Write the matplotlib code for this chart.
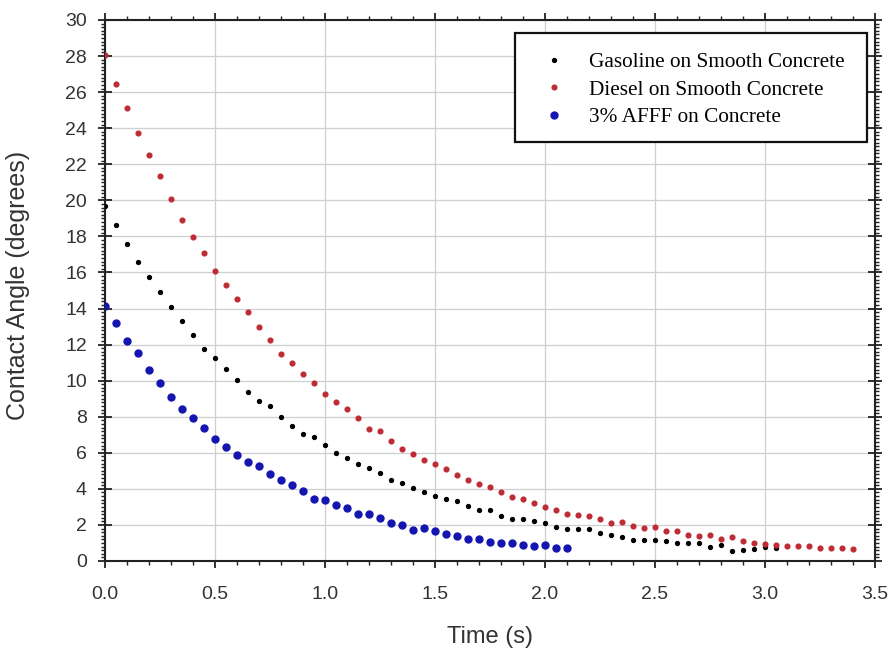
import matplotlib
matplotlib.use("Agg")
import matplotlib.pyplot as plt
from matplotlib.ticker import MultipleLocator
from matplotlib.patches import Rectangle

time_s = [0.00, 0.05, 0.10, 0.15, 0.20, 0.25, 0.30, 0.35, 0.40, 0.45,
          0.50, 0.55, 0.60, 0.65, 0.70, 0.75, 0.80, 0.85, 0.90, 0.95,
          1.00, 1.05, 1.10, 1.15, 1.20, 1.25, 1.30, 1.35, 1.40, 1.45,
          1.50, 1.55, 1.60, 1.65, 1.70, 1.75, 1.80, 1.85, 1.90, 1.95,
          2.00, 2.05, 2.10, 2.15, 2.20, 2.25, 2.30, 2.35, 2.40, 2.45,
          2.50, 2.55, 2.60, 2.65, 2.70, 2.75, 2.80, 2.85, 2.90, 2.95,
          3.00, 3.05, 3.10, 3.15, 3.20, 3.25, 3.30, 3.35, 3.40]

gasoline = [19.69, 18.62, 17.57, 16.57, 15.74, 14.89, 14.07, 13.33, 12.52, 11.78,
            11.23, 10.62, 10.01, 9.38, 8.88, 8.57, 8.00, 7.50, 7.02, 6.85,
            6.41, 5.99, 5.73, 5.36, 5.16, 4.87, 4.51, 4.32, 4.05, 3.83,
            3.59, 3.44, 3.35, 3.07, 2.81, 2.85, 2.52, 2.32, 2.35, 2.23,
            2.12, 1.86, 1.78, 1.78, 1.75, 1.58, 1.45, 1.34, 1.19, 1.19,
            1.15, 1.10, 0.98, 1.01, 1.01, 0.79, 0.88, 0.58, 0.60, 0.68,
            0.75, 0.71]

diesel = [28.06, 26.46, 25.14, 23.74, 22.50, 21.37, 20.08, 18.89, 17.99, 17.10,
          16.08, 15.31, 14.53, 13.83, 12.95, 12.24, 11.46, 10.96, 10.39, 9.89,
          9.24, 8.80, 8.43, 7.91, 7.34, 7.19, 6.65, 6.22, 5.93, 5.60,
          5.38, 5.09, 4.75, 4.49, 4.29, 4.12, 3.83, 3.55, 3.44, 3.23,
          3.00, 2.83, 2.61, 2.57, 2.51, 2.33, 2.09, 2.16, 1.92, 1.81,
          1.88, 1.64, 1.65, 1.44, 1.39, 1.44, 1.24, 1.31, 1.13, 1.00,
          0.96, 0.89, 0.83, 0.83, 0.85, 0.74, 0.72, 0.74, 0.65]

afff = [14.12, 13.19, 12.22, 11.52, 10.60, 9.86, 9.08, 8.43, 7.91, 7.38,
        6.77, 6.31, 5.90, 5.49, 5.29, 4.85, 4.48, 4.20, 3.87, 3.46,
        3.39, 3.10, 2.95, 2.63, 2.60, 2.36, 2.12, 2.01, 1.72, 1.85,
        1.68, 1.52, 1.37, 1.24, 1.22, 1.05, 1.02, 1.02, 0.89, 0.83,
        0.87, 0.74, 0.71]

labels = ["Gasoline on Smooth Concrete", "Diesel on Smooth Concrete", "3% AFFF on Concrete"]

plt.rcParams['font.family'] = ['Liberation Sans', 'DejaVu Sans']

fig = plt.figure(figsize=(8.93, 6.49), dpi=100)
ax = fig.add_axes([0.1176, 0.1356, 0.8623, 0.8336])

ax.plot(time_s[:len(gasoline)], gasoline, linestyle='none', marker='o',
        markersize=2.8, color='black', label=labels[0], zorder=3)
ax.plot(time_s[:len(diesel)], diesel, linestyle='none', marker='o',
        markersize=3.4, color='#bf2b35', label=labels[1], zorder=3)
ax.plot(time_s[:len(afff)], afff, linestyle='none', marker='o',
        markersize=5.0, color='#1414b0', label=labels[2], zorder=3)

ax.set_xlim(0, 3.5)
ax.set_ylim(0, 30)
ax.xaxis.set_major_locator(MultipleLocator(0.5))
ax.xaxis.set_minor_locator(MultipleLocator(0.1))
ax.yaxis.set_major_locator(MultipleLocator(2))
ax.yaxis.set_minor_locator(MultipleLocator(0.2))
ax.xaxis.set_major_formatter(plt.FuncFormatter(lambda v, p: f"{v:.1f}"))

ax.grid(True, which='major', color='#cfcfcf', linewidth=0.9)
ax.set_axisbelow(True)

ax.tick_params(which='both', direction='out', top=True, right=True,
               labeltop=False, labelright=False, colors='#222222',
               labelsize=14, labelcolor='#333333')
ax.tick_params(axis='x', which='major', length=5, width=1.3, pad=13)
ax.tick_params(axis='x', which='minor', length=3, width=1.0)
ax.tick_params(axis='y', which='major', direction='inout', length=10, width=1.3, pad=8)
ax.tick_params(axis='y', which='minor', length=3, width=1.0)
for s in ax.spines.values():
    s.set_linewidth(1.5)
    s.set_color('#222222')

ax.set_xlabel("Time (s)", fontsize=17, color='#333333')
ax.set_ylabel("Contact Angle (degrees)", fontsize=18, color='#333333')
ax.xaxis.set_label_coords(0.5, -0.121)
ax.yaxis.set_label_coords(-0.098, 0.51)

ax.add_patch(Rectangle((0.5325, 0.7745), 0.4571, 0.2015, transform=ax.transAxes,
                       facecolor='white', edgecolor='#111111', linewidth=1.6,
                       zorder=4, clip_on=False))
leg = ax.legend(loc='upper left', bbox_to_anchor=(0.5687, 0.940),
                prop={'family': ['Liberation Serif'], 'size': 15.3},
                frameon=False, handlelength=1.0, handletextpad=1.15,
                borderpad=0, labelspacing=0.36, borderaxespad=0,
                markerscale=1.0)
leg.set_zorder(5)

fig.savefig("out.png", dpi=100)
